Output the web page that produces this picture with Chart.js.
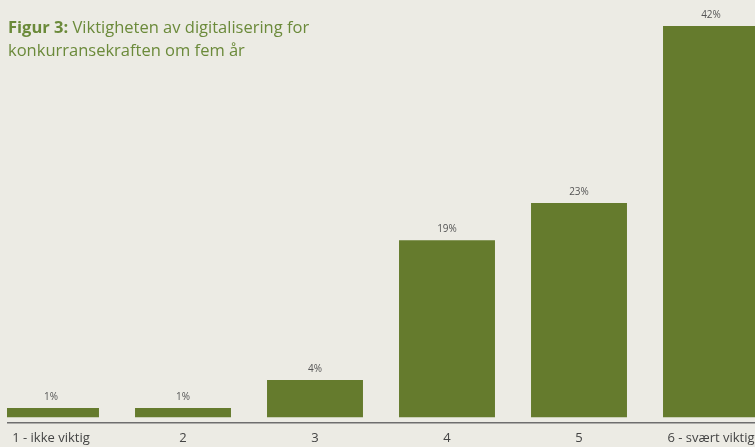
<!DOCTYPE html>
<html>
<head>
<meta charset="utf-8">
<script src="https://cdn.jsdelivr.net/npm/chart.js@4.4.0/dist/chart.umd.min.js"></script>
<style>
  html, body { margin: 0; padding: 0; background: #ecebe4; overflow: hidden; }
  #wrap { position: absolute; left: 7px; top: 0; width: 748px; height: 447px; overflow: hidden; }
  #holder { position: absolute; left: -22px; top: 0; width: 792px; height: 454px; }
  #title { position: absolute; left: 8px; top: 15px; font-family: "Open Sans", sans-serif; font-size: 16.5px;
           line-height: 23px; color: #6b8a3a; z-index: 2; }
  #title b { font-weight: 700; }
</style>
</head>
<body>
<div id="title"><b>Figur 3:</b> Viktigheten av digitalisering for<br>konkurransekraften om fem år</div>
<div id="wrap"><div id="holder"><canvas id="chart"></canvas></div></div>
<script>
// categories and share of answers (%)
var categories = ["1 - ikke viktig", "2", "3", "4", "5", "6 - svært viktig"];
var shares = [1, 1, 4, 19, 23, 42];

// print the percentage above every bar
var valueLabels = {
    id: "valueLabels",
    afterDatasetsDraw: function(chart) {
        var ctx = chart.ctx;
        var meta = chart.getDatasetMeta(0);
        ctx.save();
        ctx.font = "10px 'Open Sans', sans-serif";
        ctx.fillStyle = "#555555";
        ctx.textAlign = "center";
        ctx.textBaseline = "middle";
        meta.data.forEach(function(bar, i) {
            ctx.fillText(shares[i] + "%", bar.x, bar.y - 11);
        });
        ctx.restore();
    }
};

var ctx = document.getElementById("chart").getContext("2d");
var chart = new Chart(ctx, {
    type: "bar",
    data: {
        labels: categories,
        datasets: [{
            data: shares,
            backgroundColor: "#657b2d",
            barPercentage: 0.727,
            categoryPercentage: 1.0
        }]
    },
    options: {
        responsive: true,
        maintainAspectRatio: false,
        animation: false,
        layout: { padding: 0 },
        plugins: {
            legend: { display: false },
            tooltip: { enabled: false }
        },
        scales: {
            x: {
                grid: { display: false, drawTicks: false },
                border: { display: true, color: "#6e6e6e", width: 1.5 },
                ticks: {
                    color: "#444444",
                    padding: 8,
                    maxRotation: 0,
                    autoSkip: false,
                    font: { family: "'Open Sans', sans-serif", size: 13 }
                }
            },
            y: {
                display: false,
                min: -0.55,
                max: 44.8
            }
        }
    },
    plugins: [valueLabels]
});
</script>
</body>
</html>
